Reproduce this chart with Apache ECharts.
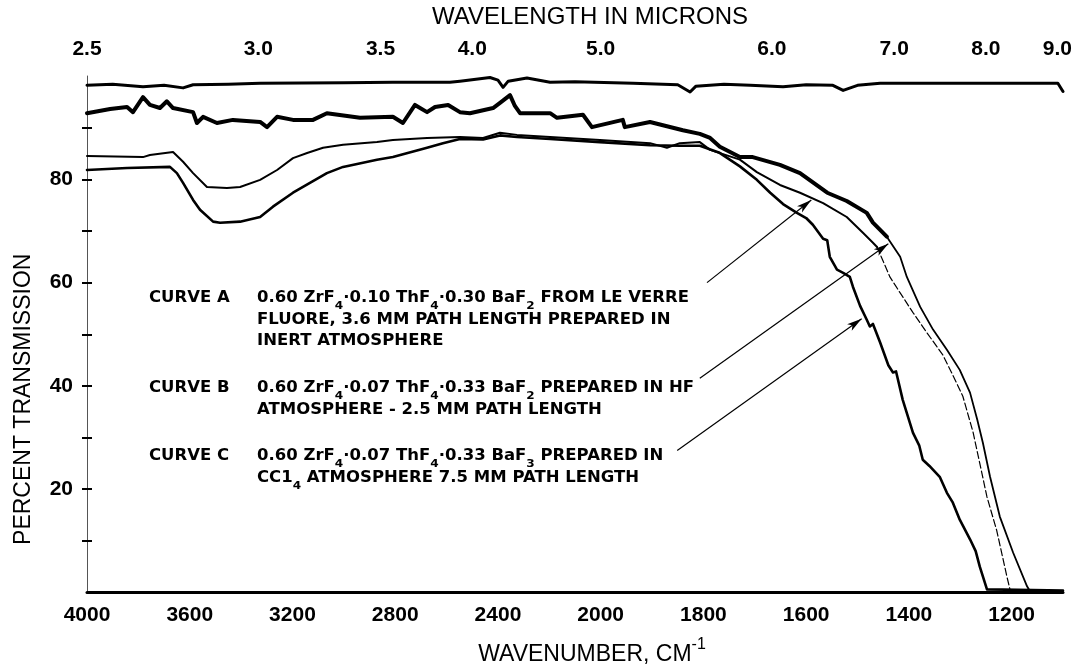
<!DOCTYPE html>
<html>
<head>
<meta charset="utf-8">
<script src="https://cdn.jsdelivr.net/npm/echarts@6/dist/echarts.min.js"></script>
<style>
  html, body { margin: 0; padding: 0; background: #ffffff; }
  #chart { width: 1086px; height: 671px; }
</style>
</head>
<body>
<div id="chart"></div>
<script>
// Tick values for the three axes
const wavenumberTicks = [4000, 3600, 3200, 2800, 2400, 2000, 1800, 1600, 1400, 1200];
const wavelengthTicks = [2.5, 3.0, 3.5, 4.0, 5.0, 6.0, 7.0, 8.0, 9.0];
const transmissionLabels = [20, 40, 60, 80];
const transmissionTicks = [10, 20, 30, 40, 50, 60, 70, 80, 90];

// Spectra as [wavenumber in cm-1, percent transmission]
const reference100 = [
  [4000, 98.2], [3900, 98.4], [3782, 97.9], [3700, 98.2], [3626, 97.7], [3587, 98.3],
  [3450, 98.4], [3326, 98.6], [3000, 98.7], [2809, 98.8], [2587, 98.8], [2548, 99.0],
  [2431, 99.7], [2400, 99.2], [2380, 97.8], [2360, 99.0], [2287, 99.6], [2197, 98.8],
  [2100, 98.9], [1937, 98.6], [1850, 98.3], [1826, 96.9], [1815, 98.0], [1760, 98.4],
  [1709, 98.2], [1645, 97.9], [1600, 98.3], [1548, 98.2], [1528, 97.2], [1500, 98.2],
  [1456, 98.6], [1262, 98.6], [1110, 98.6], [1100, 97.0]
];

const curveA = [
  [4000, 84.5], [3782, 84.3], [3755, 84.7], [3665, 85.3], [3626, 83.4], [3587, 81.2],
  [3533, 78.5], [3455, 78.3], [3404, 78.5], [3326, 79.9], [3260, 81.8], [3198, 84.1],
  [3143, 85.1], [3081, 86.1], [3003, 86.7], [2871, 87.2], [2809, 87.6], [2676, 88.0],
  [2548, 88.2], [2458, 88.0], [2392, 89.0], [2326, 88.6], [2197, 88.2], [2003, 87.6],
  [1904, 87.0], [1871, 86.1], [1846, 87.0], [1807, 87.2], [1787, 85.7], [1729, 83.8],
  [1696, 81.4], [1651, 78.9], [1612, 77.4], [1567, 75.4], [1521, 72.7], [1489, 69.6],
  [1470, 67.7], [1462, 66.9], [1437, 61.1], [1417, 58.0], [1392, 54.2], [1365, 50.3],
  [1334, 46.0], [1314, 42.0], [1295, 38.0], [1275, 31.0], [1262, 25.0], [1248, 18.5],
  [1229, 12.0], [1209, 3.0], [1203, 0.5], [1100, 0.3]
];

const curveB = [
  [4000, 92.8], [3910, 93.6], [3844, 94.0], [3821, 93.0], [3782, 95.9], [3755, 94.4],
  [3716, 93.8], [3689, 95.1], [3665, 93.8], [3587, 93.0], [3572, 90.9], [3548, 92.1],
  [3494, 90.9], [3432, 91.5], [3326, 91.1], [3299, 90.1], [3260, 92.1], [3198, 91.5],
  [3120, 91.5], [3066, 92.8], [2937, 91.9], [2809, 92.1], [2770, 90.9], [2723, 94.4],
  [2676, 93.0], [2645, 94.0], [2594, 94.4], [2548, 93.0], [2509, 92.8], [2419, 93.8],
  [2392, 94.8], [2353, 96.3], [2334, 94.2], [2314, 92.8], [2197, 92.8], [2170, 91.9],
  [2069, 92.5], [2034, 90.1], [1957, 91.5], [1953, 90.1], [1904, 91.1], [1840, 89.5],
  [1807, 88.8], [1787, 88.0], [1768, 86.3], [1729, 84.3], [1704, 84.3], [1651, 82.8],
  [1612, 81.2], [1559, 77.4], [1521, 75.8], [1482, 73.5], [1470, 71.6], [1443, 68.9],
  [1417, 65.0], [1404, 61.1], [1378, 55.3], [1353, 50.9], [1326, 47.0], [1301, 43.1],
  [1281, 38.7], [1267, 33.5], [1256, 29.0], [1242, 22.4], [1223, 14.7], [1197, 7.7],
  [1170, 1.2], [1164, 0.2], [1100, 0.2]
];

const curveC = [
  [4000, 81.8], [3844, 82.2], [3677, 82.4], [3650, 81.2], [3626, 79.3], [3587, 76.0],
  [3560, 74.1], [3509, 71.8], [3482, 71.6], [3404, 71.8], [3326, 72.7], [3276, 74.7],
  [3198, 77.4], [3132, 79.3], [3066, 81.2], [3003, 82.4], [2871, 83.8], [2809, 84.3],
  [2676, 86.1], [2614, 87.0], [2548, 87.8], [2458, 87.7], [2392, 88.5], [2326, 88.2],
  [2197, 87.8], [2003, 87.2], [1904, 86.6], [1846, 86.5], [1807, 86.5], [1770, 85.2],
  [1729, 82.5], [1696, 79.9], [1670, 77.4], [1645, 75.2], [1618, 73.5], [1600, 72.5],
  [1587, 71.2], [1567, 68.5], [1559, 68.2], [1554, 65.0], [1540, 62.5], [1528, 61.9],
  [1515, 61.1], [1509, 59.2], [1495, 55.5], [1482, 52.8], [1476, 51.5], [1470, 52.0],
  [1456, 48.4], [1440, 44.0], [1431, 42.6], [1425, 42.8], [1412, 37.3], [1392, 30.9],
  [1380, 28.5], [1373, 25.7], [1360, 24.5], [1340, 22.4], [1326, 19.3], [1315, 17.5],
  [1301, 14.1], [1281, 10.3], [1270, 8.0], [1262, 5.0], [1248, 0.6], [1100, 0.4]
];

// Leader arrows from each note to its curve: [start, tip] as [wavenumber, %T]
const arrowA = [[1793, 60.0], [1590, 76.0]];
const arrowB = [[1807, 41.5], [1440, 67.5]];
const arrowC = [[1851, 27.5], [1492, 53.0]];

// Chart paper scale: 400 cm-1 per division above 2000, 200 cm-1 per division below
function toAxis(w) { return w >= 2000 ? (4000 - w) / 400 : 5 + (2000 - w) / 200; }
function fromAxis(u) { return u <= 5 ? 4000 - 400 * u : 2000 - 200 * (u - 5); }
const AXIS_MAX = toAxis(1100);

const FONT = '"Liberation Sans", Arial, sans-serif';
const NOTE_FONT = '"DejaVu Sans", Verdana, sans-serif';
const toXY = (pts) => pts.map(([w, t]) => [toAxis(w), t]);

// Split a trace at a wavenumber so the two parts can be drawn with different pens
const above = (pts, w) => pts.filter((p) => p[0] >= w);
const below = (pts, w) => pts.filter((p) => p[0] <= w);

function arrowLine(a) {
  return [{ coord: [toAxis(a[0][0]), a[0][1]] }, { coord: [toAxis(a[1][0]), a[1][1]] }];
}

function curve(name, data, lineStyle, extra) {
  return Object.assign({
    name: name,
    type: 'line',
    xAxisIndex: 0,
    yAxisIndex: 0,
    data: toXY(data),
    showSymbol: false,
    symbol: 'none',
    smooth: false,
    silent: true,
    lineStyle: Object.assign({ color: '#000', join: 'round', cap: 'round' }, lineStyle),
    z: 3
  }, extra || {});
}

// Notes: each line is rich text with lowered subscripts
const noteRich = {
  n: { fontFamily: NOTE_FONT, fontSize: 15, fontWeight: 'bold', fill: '#000', lineHeight: 16, verticalAlign: 'top' },
  s: { fontFamily: NOTE_FONT, fontSize: 11, fontWeight: 'bold', fill: '#000', lineHeight: 21, verticalAlign: 'bottom' }
};
function noteLine(x, yCenter, text) {
  return {
    type: 'text', x: x, y: yCenter - 8, scaleX: 1.1, silent: true,
    style: { text: text, rich: noteRich, fill: '#000', font: 'bold 15px ' + NOTE_FONT, verticalAlign: 'top' }
  };
}
const LABEL_X = 149, BODY_X = 257;
const notes = [
  noteLine(LABEL_X, 299, '{n|CURVE A}'),
  noteLine(BODY_X, 299, '{n|0.60 ZrF}{s|4}{n|·0.10 ThF}{s|4}{n|·0.30 BaF}{s|2}{n| FROM LE VERRE}'),
  noteLine(BODY_X, 321, '{n|FLUORE, 3.6 MM PATH LENGTH PREPARED IN}'),
  noteLine(BODY_X, 342, '{n|INERT ATMOSPHERE}'),
  noteLine(LABEL_X, 389, '{n|CURVE B}'),
  noteLine(BODY_X, 389, '{n|0.60 ZrF}{s|4}{n|·0.07 ThF}{s|4}{n|·0.33 BaF}{s|2}{n| PREPARED IN HF}'),
  noteLine(BODY_X, 411, '{n|ATMOSPHERE - 2.5 MM PATH LENGTH}'),
  noteLine(LABEL_X, 457, '{n|CURVE C}'),
  noteLine(BODY_X, 457, '{n|0.60 ZrF}{s|4}{n|·0.07 ThF}{s|4}{n|·0.33 BaF}{s|3}{n| PREPARED IN}'),
  noteLine(BODY_X, 479, '{n|CC1}{s|4}{n| ATMOSPHERE 7.5 MM PATH LENGTH}')
];

const chart = echarts.init(document.getElementById('chart'), null, { renderer: 'canvas' });

const tickLabelStyle = { fontFamily: FONT, fontSize: 21, fontWeight: 'bold', color: '#000' };
const titleStyle = { fontFamily: FONT, fontSize: 23, color: '#000' };

chart.setOption({
  animation: false,
  backgroundColor: '#ffffff',
  grid: { left: 87, right: 23, top: 76, bottom: 78, containLabel: false },
  xAxis: [
    {
      type: 'value', position: 'bottom', min: 0, max: AXIS_MAX,
      name: 'WAVENUMBER, CM{sup|-1}',
      nameLocation: 'middle', nameGap: 44,
      nameTextStyle: Object.assign({}, titleStyle, {
        padding: [0, 0, 0, 34],
        rich: { sup: { fontFamily: FONT, fontSize: 16, color: '#000', verticalAlign: 'top', lineHeight: 36 } }
      }),
      axisLine: { show: true, lineStyle: { color: '#000', width: 3 } },
      axisTick: { show: false },
      splitLine: { show: false },
      axisLabel: Object.assign({
        customValues: wavenumberTicks.map(toAxis),
        formatter: (v) => String(Math.round(fromAxis(v))),
        margin: 12
      }, tickLabelStyle)
    },
    {
      type: 'value', position: 'top', min: 0, max: AXIS_MAX,
      name: 'WAVELENGTH IN MICRONS',
      nameLocation: 'middle', nameGap: 47,
      nameTextStyle: Object.assign({}, titleStyle, { fontSize: 24, padding: [0, 0, 0, 30] }),
      axisLine: { show: false },
      axisTick: { show: false },
      splitLine: { show: false },
      axisLabel: Object.assign({
        customValues: wavelengthTicks.map((l) => toAxis(10000 / l)),
        formatter: (v) => (10000 / fromAxis(v)).toFixed(1),
        margin: 16
      }, tickLabelStyle)
    }
  ],
  yAxis: [
    {
      type: 'value', position: 'left', min: 0, max: 100,
      name: 'PERCENT TRANSMISSION',
      nameLocation: 'middle', nameGap: 52,
      // extra trailing padding moves the rotated title down along the axis
      nameTextStyle: Object.assign({}, titleStyle, { padding: [0, 130, 0, 0] }),
      axisLine: { show: true, lineStyle: { color: '#555', width: 1 } },
      axisTick: {
        show: true, inside: true, length: 5,
        customValues: transmissionTicks,
        lineStyle: { color: '#000', width: 2 }
      },
      splitLine: { show: false },
      axisLabel: Object.assign({ customValues: transmissionLabels, margin: 14 }, tickLabelStyle)
    },
    {
      type: 'value', position: 'right', min: 0, max: 100,
      axisLine: { show: false },
      axisTick: {
        show: true, inside: true, length: 5,
        customValues: transmissionTicks,
        lineStyle: { color: '#000', width: 2 }
      },
      axisLabel: { show: false },
      splitLine: { show: false }
    }
  ],
  series: [
    curve('100% line', reference100, { width: 3 }),
    curve('Curve B', above(curveB, 1437), { width: 4 }, {
      markLine: {
        silent: true,
        symbol: ['none', 'arrow'],
        symbolSize: [6, 15],
        label: { show: false },
        lineStyle: { color: '#000', width: 1.2, type: 'solid' },
        emphasis: { disabled: true },
        data: [arrowLine(arrowA), arrowLine(arrowB), arrowLine(arrowC)]
      }
    }),
    curve('Curve B low', below(curveB, 1443), { width: 1.8 }),
    curve('Curve A', above(curveA, 1462), { width: 2 }),
    curve('Curve A low', below(curveA, 1462), { width: 1.2, type: [7, 3] }),
    curve('Curve C', curveC, { width: 2.6 })
  ],
  graphic: notes
});
</script>
</body>
</html>
